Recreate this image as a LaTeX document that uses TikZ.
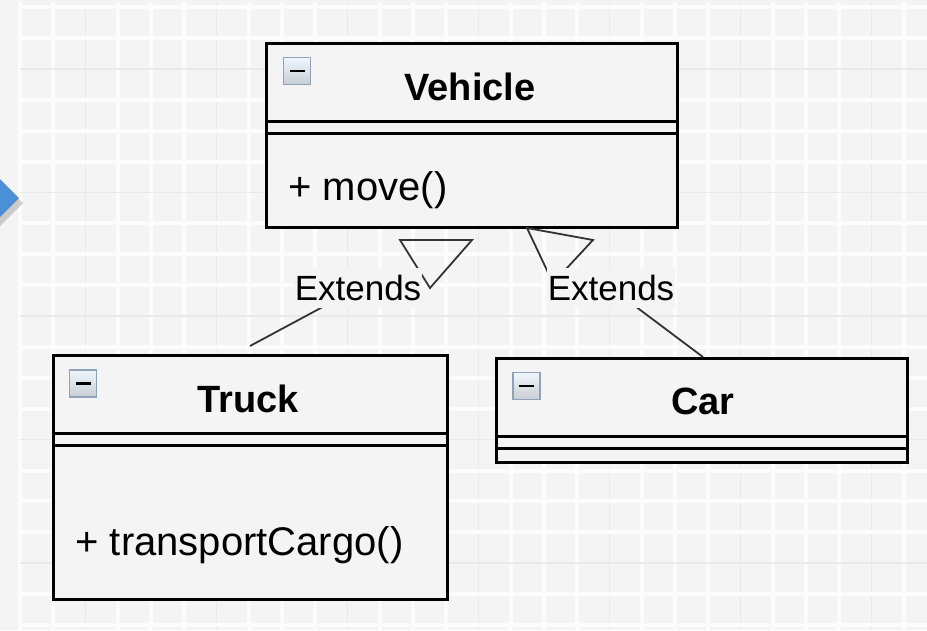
\documentclass[tikz,border=0pt]{standalone}
\usepackage{fontspec}
\setmainfont{Liberation Sans}
\usetikzlibrary{shadows}
\definecolor{canvas}{HTML}{F4F4F4}
\definecolor{gridminor}{HTML}{FCFCFC}
\definecolor{gridmajor}{HTML}{E9E9E9}
\definecolor{accent}{HTML}{4A8FD8}
\definecolor{linkgray}{HTML}{333333}
\definecolor{iconedge}{HTML}{8FA2B8}
\definecolor{iconlow}{HTML}{C9CED4}
\definecolor{iconhigh}{HTML}{EEF7FD}

\begin{document}
\begin{tikzpicture}[x=1pt, y=-1pt, every node/.style={font=\fontsize{40}{42}\selectfont, text=black},
  classbox/.style={draw, line width=3pt, fill=canvas, inner sep=0pt},
  classline/.style={line width=3pt},
  classtitle/.style={font=\fontsize{38}{40}\selectfont\bfseries, anchor=base},
  member/.style={anchor=base west},
  collapse/.style={draw=iconedge, line width=1.5pt, top color=iconhigh, bottom color=iconlow,
    minimum size=27pt, inner sep=0pt,
    path picture={\draw[line width=2.5pt, black] ([xshift=6pt]path picture bounding box.west) -- ([xshift=-6pt]path picture bounding box.east);}},
  genline/.style={draw=linkgray, line width=1.8pt},
  extlabel/.style={fill=canvas, font=\fontsize{35}{37}\selectfont, inner xsep=1pt, inner ysep=0pt, minimum height=40pt}]
  \fill[canvas] (0,0) rectangle (927,630);
  \useasboundingbox (0,0) rectangle (927,630);

  % grid
  \foreach \i in {0,...,27} {
    \pgfmathtruncatemacro\m{mod(\i,4)}
    \ifnum\m=2
      \draw[gridmajor, line width=1.5pt] (20+32.75*\i,2) -- (20+32.75*\i,630);
    \else
      \draw[gridminor, line width=4pt] (20+32.75*\i,2) -- (20+32.75*\i,630);
    \fi
  }
  \foreach \j in {0,...,20} {
    \pgfmathtruncatemacro\m{mod(\j,4)}
    \ifnum\m=2
      \draw[gridmajor, line width=1.5pt] (20,7+30.9*\j) -- (927,7+30.9*\j);
    \else
      \draw[gridminor, line width=4pt] (20,7+30.9*\j) -- (927,7+30.9*\j);
    \fi
  }

  % side arrow
  \fill[accent, drop shadow={shadow xshift=4pt, shadow yshift=-5pt, opacity=.35}] (-40,139) -- (19,198) -- (-40,257) -- cycle;

  % classes
  \node[classbox, minimum width=411pt, minimum height=184pt] (vehicle) at (471.5,135) {};
  \node[classbox, minimum width=394pt, minimum height=244pt] (truck) at (250,477) {};
  \node[classbox, minimum width=411pt, minimum height=104pt] (car) at (701.5,410) {};
  \foreach \c in {vehicle,truck,car} {
    \draw[classline] ([yshift=-80pt]\c.north west) -- ([yshift=-80pt]\c.north east);
    \draw[classline] ([yshift=-92pt]\c.north west) -- ([yshift=-92pt]\c.north east);
  }
  \node[collapse] (vehicleicon) at (297,71) {};
  \node[collapse] (truckicon) at (83,383.5) {};
  \node[collapse] (caricon) at (526.5,386) {};
  \node[classtitle] (vehicletitle) at (470,100) {Vehicle};
  \node[classtitle] (trucktitle) at (248,412) {Truck};
  \node[classtitle] (cartitle) at (703,414) {Car};
  \node[member] (move) at (285,200) {+ move()};
  \node[member] (cargo) at (72,555) {+ transportCargo()};

  % generalizations
  \coordinate (truckend) at (250,346);
  \coordinate (carend) at (703,357);
  \coordinate (extleft) at (358,288);
  \coordinate (extright) at (611,288);
  \draw[genline] (truckend) -- (extleft);
  \draw[genline] (carend) -- (extright);
  \draw[genline, line join=miter] (400,240) -- (472,240) -- (430,288) -- cycle;
  \draw[genline, line join=miter] (527,228) -- (593,240) -- (553,283) -- cycle;
  \node[extlabel] (extendsleft) at (extleft) {Extends};
  \node[extlabel] (extendsright) at (extright) {Extends};
\end{tikzpicture}
\end{document}
